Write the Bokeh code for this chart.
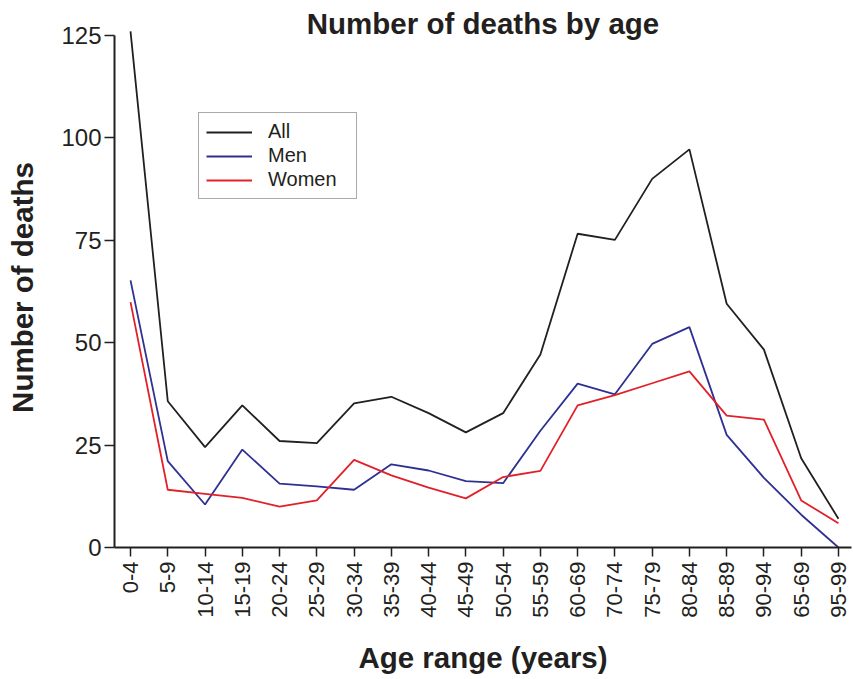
import numpy as np
from bokeh.plotting import figure
from bokeh.models import Range1d, FixedTicker, Legend, LegendItem, LinearAxis
from bokeh.embed import file_html
from bokeh.resources import INLINE

categories = ["0-4", "5-9", "10-14", "15-19", "20-24", "25-29", "30-34", "35-39",
              "40-44", "45-49", "50-54", "55-59", "60-69", "70-74", "75-79", "80-84",
              "85-89", "90-94", "65-69", "95-99"]
all_deaths = [126, 35.7, 24.5, 34.7, 26.0, 25.5, 35.2, 36.8, 32.8, 28.1, 32.8, 47.1,
              76.6, 75.1, 90.0, 97.2, 59.5, 48.3, 21.8, 7.0]
men_deaths = [65.2, 21.1, 10.5, 23.9, 15.6, 14.9, 14.1, 20.3, 18.8, 16.2, 15.7, 28.5,
              40.0, 37.4, 49.7, 53.8, 27.5, 17.0, 8.0, 0.0]
women_deaths = [59.9, 14.1, 13.1, 12.1, 10.0, 11.5, 21.4, 17.6, 14.6, 12.0, 17.2, 18.7,
                34.7, 37.2, 40.1, 43.0, 32.2, 31.2, 11.5, 5.9]
y_ticks = [0, 25, 50, 75, 100, 125]

TXT = "#231f20"
FONT = "Liberation Sans"
TITLE_SIZE = "29.5px"

xs = list(range(len(categories)))

p = figure(width=852, height=678, output_backend="svg", toolbar_location=None,
           x_range=Range1d(-0.43, 19.35), y_range=Range1d(0, 126.95),
           min_border_left=114, min_border_right=1, min_border_top=27,
           min_border_bottom=131)
p.outline_line_color = None
p.grid.visible = False
p.background_fill_color = "white"

r_all = p.line(xs, all_deaths, line_color="#231f20", line_width=1.8)
r_men = p.line(xs, men_deaths, line_color="#2e3192", line_width=1.8)
r_women = p.line(xs, women_deaths, line_color="#e2202a", line_width=1.8)

# x axis
xa = p.xaxis[0]
xa.ticker = FixedTicker(ticks=xs)
xa.major_label_overrides = {i: c for i, c in enumerate(categories)}
xa.major_label_orientation = np.pi / 2
xa.major_label_text_font = FONT
xa.major_label_text_font_size = "22px"
xa.major_label_text_color = TXT
xa.major_label_standoff = 5
xa.major_tick_out = 9
xa.major_tick_in = 0
xa.minor_tick_line_color = None
xa.major_tick_line_color = TXT
xa.major_tick_line_width = 1.5
xa.axis_line_color = TXT
xa.axis_line_width = 2
xa.axis_label = "Age range (years)"
xa.axis_label_text_font = FONT
xa.axis_label_text_font_style = "bold"
xa.axis_label_text_font_size = TITLE_SIZE
xa.axis_label_text_color = TXT
xa.axis_label_standoff = 20

# y axis
ya = p.yaxis[0]
ya.ticker = FixedTicker(ticks=y_ticks)
ya.bounds = (0, 125)
ya.major_label_text_font = FONT
ya.major_label_text_font_size = "24px"
ya.major_label_text_color = TXT
ya.major_label_standoff = 3
ya.major_tick_out = 10
ya.major_tick_in = 0
ya.minor_tick_line_color = None
ya.major_tick_line_color = TXT
ya.major_tick_line_width = 1.5
ya.axis_line_color = TXT
ya.axis_line_width = 2
ya.axis_label = "Number of deaths"
ya.axis_label_text_font = FONT
ya.axis_label_text_font_style = "bold"
ya.axis_label_text_font_size = TITLE_SIZE
ya.axis_label_text_color = TXT
ya.axis_label_standoff = 19

# chart title, carried by a bare axis above the frame
top = LinearAxis(ticker=FixedTicker(ticks=[]), axis_line_color=None,
                 major_tick_line_color=None, minor_tick_line_color=None,
                 axis_label="Number of deaths by age",
                 axis_label_text_font=FONT, axis_label_text_font_style="bold",
                 axis_label_text_font_size=TITLE_SIZE, axis_label_text_color=TXT,
                 axis_label_standoff=-12)
p.add_layout(top, "above")

legend = Legend(items=[LegendItem(label="All", renderers=[r_all]),
                       LegendItem(label="Men", renderers=[r_men]),
                       LegendItem(label="Women", renderers=[r_women])],
                location=(84, 348))
legend.border_line_color = "#555555"
legend.border_line_width = 1
legend.label_text_font = FONT
legend.label_text_font_size = "20px"
legend.label_text_color = TXT
legend.glyph_width = 46
legend.glyph_height = 20
legend.label_height = 20
legend.label_width = 81
legend.label_standoff = 16
legend.spacing = 1
legend.padding = 7
legend.margin = 0
legend.background_fill_alpha = 1
p.add_layout(legend, "center")

open("out.html", "w").write(file_html(p, INLINE))
